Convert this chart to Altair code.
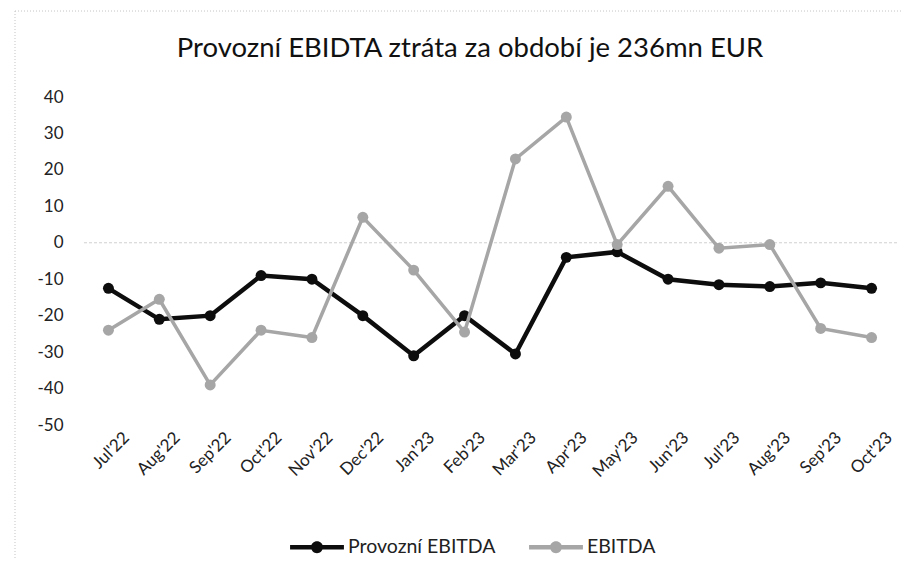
import altair as alt
import pandas as pd

months = ["Jul'22", "Aug'22", "Sep'22", "Oct'22", "Nov'22", "Dec'22", "Jan'23", "Feb'23",
          "Mar'23", "Apr'23", "May'23", "Jun'23", "Jul'23", "Aug'23", "Sep'23", "Oct'23"]
provozni = [-12.5, -21, -20, -9, -10, -20, -31, -20, -30.5, -4, -2.5, -10, -11.5, -12, -11, -12.5]
ebitda = [-24, -15.5, -39, -24, -26, 7, -7.5, -24.5, 23, 34.5, -0.5, 15.5, -1.5, -0.5, -23.5, -26]
series_names = ["Provozní EBITDA", "EBITDA"]
series_colors = ["#0d0d0d", "#a6a6a6"]
title_text = "Provozní EBIDTA ztráta za období je 236mn EUR"
y_ticks = [40, 30, 20, 10, 0, -10, -20, -30, -40, -50]

rows = []
for m, a, b in zip(months, provozni, ebitda):
    rows.append({"month": m, "series": series_names[0], "value": a})
    rows.append({"month": m, "series": series_names[1], "value": b})
df = pd.DataFrame(rows)

FONT = "Lato"
legend_path = ("M-1,-0.08H1V0.08H-1Z "
               "M0.22,0A0.22,0.22 0 1,1 -0.22,0A0.22,0.22 0 1,1 0.22,0Z")

x_enc = alt.X("month:N", sort=months, title=None,
              scale=alt.Scale(type="point", padding=0.5),
              axis=alt.Axis(labelAngle=-45, domain=False, ticks=False, labelFontSize=17,
                            labelFont=FONT, labelColor="#222", labelPadding=4,
                            labelOffset=12))
y_axis = alt.Axis(values=y_ticks, grid=False, domain=False, ticks=False,
                  labelFontSize=17, labelFont=FONT, labelColor="#222",
                  labelPadding=20, labelOverlap=False,
                  labelExpr="'' + datum.value")
y_scale = alt.Scale(domain=[-50, 40], nice=False)
y_enc = alt.Y("value:Q", title=None, scale=y_scale, axis=y_axis)
color_scale = alt.Scale(domain=series_names, range=series_colors)
color_pt = alt.Color("series:N", scale=color_scale, title=None,
                     legend=alt.Legend(orient="none", direction="horizontal",
                                       legendX=207, legendY=423, padding=0,
                                       symbolType=legend_path, symbolSize=2900,
                                       symbolStrokeWidth=0, labelFontSize=19.5,
                                       labelFont=FONT, labelColor="#222",
                                       columnPadding=33, labelOffset=4))

base = alt.Chart(df)
one = pd.DataFrame({"k": [0]})

zero = alt.Chart(pd.DataFrame({"v": [0]})).mark_rule(
    color="#d0d0d0", strokeWidth=1, strokeDash=[3, 2]).encode(
    y=alt.Y("v:Q", title=None, scale=y_scale, axis=y_axis))

border_top = alt.Chart(one).mark_rule(color="#c4c4c4", strokeWidth=1, strokeDash=[1, 2]).encode(
    x=alt.value(-68), x2=alt.value(830), y=alt.value(-86))
border_left = alt.Chart(one).mark_rule(color="#c4c4c4", strokeWidth=1, strokeDash=[1, 2]).encode(
    x=alt.value(-68), y=alt.value(-86), y2=alt.value(480))

layers = [border_top, border_left, zero]
for name, w, c in zip(series_names, [4.5, 3.5], series_colors):
    sub = base.transform_filter(alt.datum.series == name)
    layers.append(sub.mark_line(strokeWidth=w, color=c).encode(x=x_enc, y=y_enc))
    layers.append(sub.mark_point(filled=True, size=120, opacity=1).encode(
        x=x_enc, y=y_enc, color=color_pt))

chart = alt.layer(*layers).properties(
    width=814, height=328,
    title=alt.TitleParams(title_text, fontSize=27.5, font=FONT, fontWeight="normal",
                          color="#111", anchor="middle", offset=-52, dx=-20),
    autosize=alt.AutoSizeParams(type="none"),
    padding={"left": 75, "top": 89, "right": 4, "bottom": 135},
).configure_view(stroke=None).configure_axis(labelOverlap=False)

chart.save("out.html", embed_options={"renderer": "svg", "actions": False})
